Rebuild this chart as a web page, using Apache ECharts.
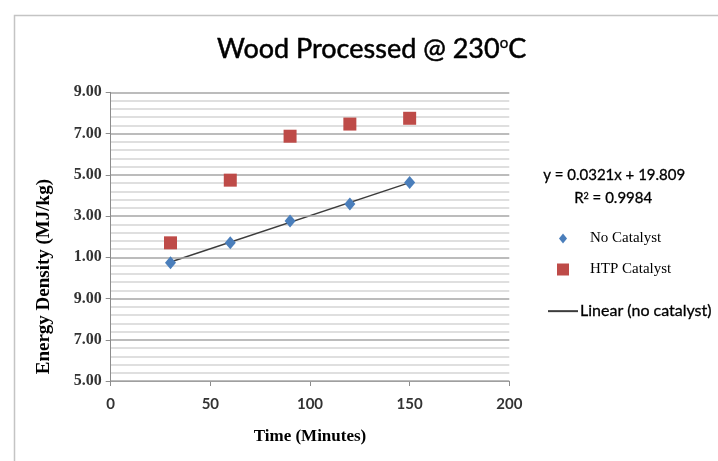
<!DOCTYPE html>
<html><head><meta charset="utf-8">
<script src="https://cdn.jsdelivr.net/npm/echarts@6/dist/echarts.min.js"></script>
<style>html,body{margin:0;padding:0;background:#fff}#c{width:718px;height:461px}</style>
</head><body><div id="c"></div>
<script>
// ---- data ----
var timeX = [30, 60, 90, 120, 150];
var noCatalystY = [20.74, 21.71, 22.76, 23.58, 24.62];
var htpCatalystY = [21.70, 24.74, 26.87, 27.46, 27.74];
var trendX = [30, 150];
var trendY = [20.77, 24.62];
var yTickValues = [15, 17, 19, 21, 23, 25, 27, 29];
var yTickLabels = ['5.00', '7.00', '9.00', '1.00', '3.00', '5.00', '7.00', '9.00'];

// minor gridline positions (every 0.4 between labelled ticks)
var yMinorValues = [];
for (var k = 0; k < yTickValues.length - 1; k++) {
  for (var m = 1; m <= 4; m++) yMinorValues.push(+(yTickValues[k] + m * 0.4).toFixed(2));
}

function pairs(xs, ys) { return xs.map(function (x, i) { return [x, ys[i]]; }); }

var chart = echarts.init(document.getElementById('c'));
chart.setOption({
  animation: false,
  backgroundColor: '#fff',
  title: {
    text: 'Wood Processed @ 230{sup|o}C',
    left: 212, top: 31,
    textStyle: {
      fontFamily: 'Lato', fontSize: 27, fontWeight: 'normal', color: '#000',
      textBorderColor: '#000', textBorderWidth: 0.5,
      rich: { sup: { fontFamily: 'Lato', fontSize: 15, color: '#000', textBorderColor: '#000', textBorderWidth: 0.3,
        verticalAlign: 'top', padding: [0, 0, 12, 0] } }
    }
  },
  grid: { left: 110.7, right: 208.7, top: 92.3, bottom: 80 },
  xAxis: {
    type: 'value', min: 0, max: 200, interval: 50,
    name: 'Time (Minutes)', nameLocation: 'middle', nameGap: 47,
    nameTextStyle: { fontFamily: 'Liberation Serif', fontWeight: 'bold', fontSize: 17, color: '#000' },
    axisLine: { show: true, lineStyle: { color: '#8c8c8c', width: 1 } },
    axisTick: { show: true, inside: false, length: 5, lineStyle: { color: '#8c8c8c' } },
    axisLabel: { margin: 16, fontFamily: 'Lato', fontWeight: 'bold', fontSize: 15, color: '#333' },
    splitLine: { show: false }
  },
  yAxis: [
    {
      type: 'value', min: 15, max: 29, position: 'left', z: 3,
      name: 'Energy Density (MJ/kg)', nameLocation: 'middle', nameGap: 57,
      nameTextStyle: { fontFamily: 'Liberation Serif', fontWeight: 'bold', fontSize: 19, color: '#000', padding: [0, 80, 0, 0] },
      axisLine: { show: true, lineStyle: { color: '#8c8c8c', width: 1 } },
      axisTick: { show: true, inside: false, length: 5, customValues: yTickValues, lineStyle: { color: '#8c8c8c' } },
      axisLabel: {
        customValues: yTickValues, margin: 9,
        fontFamily: 'Liberation Serif', fontWeight: 'bold', fontSize: 16, color: '#333',
        formatter: function (v) {
          for (var i = 0; i < yTickValues.length; i++) { if (Math.abs(v - yTickValues[i]) < 1e-6) return yTickLabels[i]; }
          return '';
        }
      },
      splitLine: { show: true, lineStyle: { width: 1.5, color: '#a6a6a6' } }
    },
    {
      type: 'value', min: 15, max: 29, position: 'left', z: 1,
      axisLine: { show: false },
      axisTick: { show: false, customValues: yMinorValues },
      axisLabel: { show: false, customValues: yMinorValues },
      splitLine: { show: true, lineStyle: { width: 1.5, color: '#d4d4d4' } }
    }
  ],
  legend: [
    { orient: 'vertical', left: 559, top: 231, padding: 0, itemWidth: 8, itemHeight: 10, symbolKeepAspect: false,
      data: [{ name: 'No Catalyst', icon: 'diamond' }],
      textStyle: { fontFamily: 'Liberation Serif', fontSize: 15, color: '#000', padding: [0, 0, 0, 18] } },
    { orient: 'vertical', left: 557, top: 262, padding: 0, itemWidth: 12, itemHeight: 12,
      data: [{ name: 'HTP Catalyst', icon: 'rect' }],
      textStyle: { fontFamily: 'Liberation Serif', fontSize: 15, color: '#000', padding: [0, 0, 0, 16] } },
    { orient: 'vertical', left: 548, top: 303, padding: 0, itemWidth: 30, itemHeight: 2, symbolKeepAspect: false,
      data: [{ name: 'Linear (no catalyst)', icon: 'rect' }],
      textStyle: { fontFamily: 'Lato', fontSize: 16, color: '#000', padding: [0, 0, 0, -3],
        textBorderColor: '#000', textBorderWidth: 0.3 } }
  ],
  graphic: [
    { type: 'rect', left: 12, top: 13, silent: true, shape: { width: 720, height: 460 },
      style: { fill: 'none', stroke: '#c4c4c4', lineWidth: 1.5 } },
    { type: 'text', left: 543, top: 168, style: { text: 'y = 0.0321x + 19.809', font: '15px Lato', fill: '#000',
      stroke: '#000', lineWidth: 0.3 } },
    { type: 'text', left: 574, top: 191, style: { text: 'R{s|2} = 0.9984', font: '15px Lato', fill: '#000',
      stroke: '#000', lineWidth: 0.3,
      rich: { s: { fontSize: 9, fontFamily: 'Lato', verticalAlign: 'top', padding: [0, 0, 6, 0] } } } }
  ],
  series: [
    { name: 'Linear (no catalyst)', type: 'line', yAxisIndex: 0, data: pairs(trendX, trendY), symbol: 'none',
      lineStyle: { color: '#3c3c3c', width: 1.5 }, itemStyle: { color: '#3c3c3c' }, z: 2 },
    { name: 'No Catalyst', type: 'scatter', yAxisIndex: 0, data: pairs(timeX, noCatalystY), symbol: 'diamond', symbolSize: [11, 13],
      itemStyle: { color: '#4A7EBB', opacity: 1 }, z: 3 },
    { name: 'HTP Catalyst', type: 'scatter', yAxisIndex: 0, data: pairs(timeX, htpCatalystY), symbol: 'rect', symbolSize: 13,
      itemStyle: { color: '#BE4B48', opacity: 1 }, z: 3 }
  ]
});
</script></body></html>
